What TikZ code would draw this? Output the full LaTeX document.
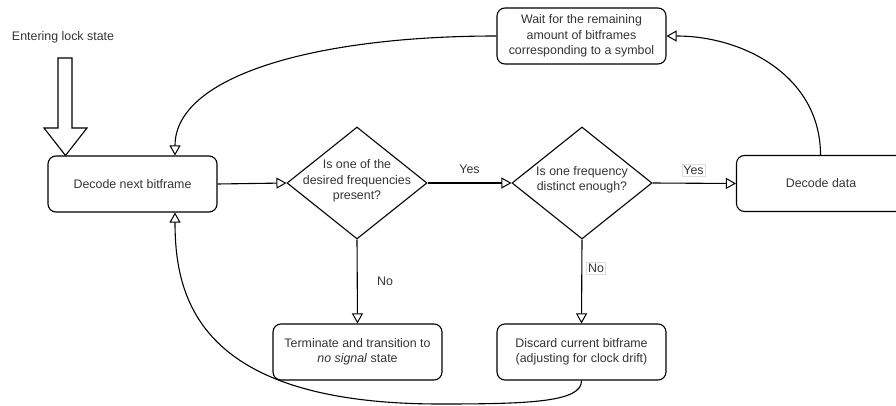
\documentclass[tikz,border=0pt]{standalone}
\usepackage{fontspec}
\setmainfont{Liberation Sans}
\usetikzlibrary{arrows.meta,shapes.geometric}
\definecolor{txt}{HTML}{333333}
\definecolor{lbl}{HTML}{DDDDDD}
\begin{document}
\begin{tikzpicture}[x=1pt,y=-1pt,
  every node/.style={font=\fontsize{12.4}{15.5}\selectfont, text=txt},
  box/.style={draw=black, line width=1.1pt, rounded corners=8pt, minimum width=169pt, minimum height=56pt, align=center, inner sep=0pt},
  dia/.style={draw=black, line width=1.1pt, diamond, minimum width=140pt, minimum height=112pt, inner sep=0pt},
  conn/.style={draw=black, line width=1.1pt, -{Triangle[open, length=10pt, width=11pt, line width=1pt]}},
  tag/.style={inner sep=1.5pt},
  tagbox/.style={draw=lbl, line width=0.6pt, inner sep=1.5pt}]
\path[use as bounding box] (0,0) rectangle (896,406);
\clip (0,0) rectangle (896,406);

% nodes
\node (entry) at (63,37) {Entering lock state};
\node[box] (dn) at (132.5,184) {Decode next bitframe};
\node[dia] (d1) at (357,183) {};
\node[align=center] (d1t) at (357,181) {Is one of the\\desired frequencies\\present?};
\node[dia] (d2) at (582,183) {};
\node[align=center] (d2t) at (582,180) {Is one frequency\\distinct enough?};
\node[box] (dd) at (821,183.5) {Decode data};
\node[box] (wt) at (581.5,36) {Wait for the remaining\\amount of bitframes\\corresponding to a symbol};
\node[box] (tm) at (357.5,352) {Terminate and transition to\\\textit{no signal} state};
\node[box] (ds) at (581.5,352) {Discard current bitframe\\(adjusting for clock drift)};

% entry block arrow
\draw[line width=1.1pt, fill=white] (58,58) -- (72,58) -- (72,128) -- (87,128) -- (65.5,155.5) -- (44,128) -- (58,128) -- cycle;

% connectors
\draw[conn] (dn.east) -- (d1.west);
\draw[conn] (d1.east) -- (d2.west);
\node[tag] (y1) at (469.5,169) {Yes};
\draw[conn] (d2.east) -- (dd.west);
\node[tagbox] (y2) at (693.5,170.5) {Yes};
\draw[conn] (d1.south) -- (tm.north);
\node[tag] (n1) at (385,281) {No};
\draw[conn] (d2.south) -- (ds.north);
\node[tagbox] (n2) at (596,268) {No};

\draw[conn] ([xshift=-0.5pt]dd.north) .. controls +(0,-78) and +(78,0) .. (wt.east);
\draw[conn] (wt.west) .. controls +(-180,0) and +(0,-80) .. ([xshift=42.5pt]dn.north);
\draw[conn] (ds.south) .. controls (582,402) and (530,404) .. (440,404)
  .. controls (200,404) and (175,300) .. ([xshift=42.5pt]dn.south);
\end{tikzpicture}
\end{document}
